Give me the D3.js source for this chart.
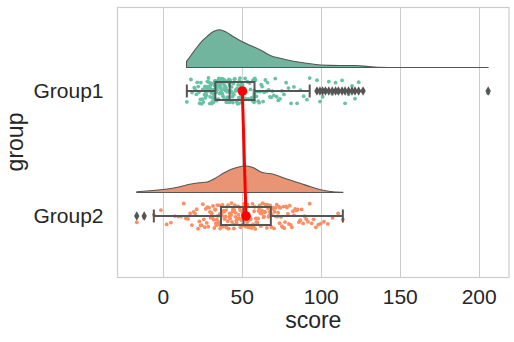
<!DOCTYPE html>
<html>
<head>
<meta charset="utf-8">
<script src="https://cdn.jsdelivr.net/npm/d3@7"></script>
<style>
  html, body { margin: 0; padding: 0; background: #ffffff; }
  svg { display: block; }
  text { font-family: "Liberation Sans", Arial, sans-serif; fill: #262626; }
</style>
</head>
<body>
<svg id="chart" width="514" height="342"></svg>
<script>
// ---------------- data ----------------
const categories = ["Group1", "Group2"];
const xTicks = [0, 50, 100, 150, 200];
const xLabel = "score";
const yLabel = "group";

const group1Scores = [
  15.2, 17.8, 18.5, 19.9, 20.6, 21.3, 21.8, 22.4, 22.9, 23.3,
  23.8, 24.1, 24.6, 25.0, 25.3, 25.7, 26.0, 26.4, 26.7, 27.0,
  27.3, 27.6, 27.9, 28.2, 28.4, 28.7, 28.9, 29.2, 29.4, 29.7,
  29.9, 30.1, 30.3, 30.5, 30.8, 31.0, 31.2, 31.4, 31.6, 31.8,
  32.0, 32.1, 32.3, 32.4, 32.6, 32.7, 32.8, 32.9, 33.0, 33.1,
  33.3, 33.5, 33.7, 33.9, 34.1, 34.3, 34.5, 34.6, 34.8, 35.0,
  35.2, 35.3, 35.5, 35.7, 35.8, 36.0, 36.2, 36.3, 36.5, 36.7,
  36.9, 37.0, 37.2, 37.4, 37.6, 37.8, 38.0, 38.1, 38.3, 38.5,
  38.7, 38.9, 39.1, 39.3, 39.5, 39.7, 39.9, 40.1, 40.2, 40.4,
  40.6, 40.8, 41.0, 41.2, 41.3, 41.5, 41.7, 41.8, 42.0, 42.2,
  42.4, 42.6, 42.9, 43.1, 43.4, 43.6, 43.9, 44.1, 44.4, 44.7,
  45.0, 45.3, 45.6, 45.9, 46.2, 46.5, 46.8, 47.1, 47.4, 47.7,
  48.0, 48.3, 48.6, 48.9, 49.2, 49.5, 49.8, 50.1, 50.5, 50.9,
  51.3, 51.7, 52.1, 52.5, 53.0, 53.5, 54.0, 54.5, 55.0, 55.5,
  56.0, 56.4, 56.8, 57.1, 57.4, 57.6, 57.7, 57.8, 57.9, 58.0,
  58.2, 58.7, 59.3, 59.9, 60.4, 61.0, 61.6, 62.3, 62.9, 63.5,
  64.2, 64.9, 65.6, 66.3, 67.0, 67.8, 68.6, 69.4, 70.3, 71.2,
  72.1, 73.1, 74.2, 75.4, 76.7, 78.1, 79.6, 81.2, 83.0, 85.0,
  87.1, 89.2, 91.3, 93.0,
  97.6, 99.5, 101.2, 103.0, 105.1, 107.3, 109.4, 111.2, 113.5, 115.4,
  117.6, 119.8, 121.7, 124.0, 126.8, 206.0
];

const group2Scores = [
  -16.5, -11.8, -5.7, -1.2, 2.4, 5.1, 7.6, 9.8, 11.5, 13.2,
  14.6, 16.0, 17.3, 18.4, 19.5, 20.5, 21.4, 22.3, 23.1, 23.9,
  24.6, 25.3, 26.0, 26.6, 27.2, 27.8, 28.3, 28.8, 29.3, 29.8,
  30.2, 30.6, 31.0, 31.4, 31.8, 32.2, 32.6, 33.0, 33.3, 33.6,
  33.9, 34.2, 34.5, 34.8, 35.1, 35.4, 35.7, 36.0, 36.3, 36.6,
  36.9, 37.2, 37.5, 37.8, 38.1, 38.4, 38.7, 39.0, 39.3, 39.6,
  39.9, 40.2, 40.5, 40.8, 41.1, 41.4, 41.7, 42.0, 42.3, 42.6,
  42.9, 43.2, 43.5, 43.8, 44.1, 44.4, 44.7, 45.0, 45.3, 45.6,
  45.9, 46.2, 46.5, 46.8, 47.1, 47.4, 47.7, 48.0, 48.3, 48.6,
  48.9, 49.2, 49.5, 49.8, 50.1, 50.3, 50.5, 50.7, 50.9, 51.0,
  51.2, 51.5, 51.9, 52.2, 52.6, 52.9, 53.3, 53.6, 54.0, 54.3,
  54.7, 55.0, 55.4, 55.7, 56.1, 56.4, 56.8, 57.1, 57.5, 57.8,
  58.2, 58.5, 58.9, 59.2, 59.6, 59.9, 60.3, 60.6, 61.0, 61.3,
  61.7, 62.0, 62.4, 62.7, 63.1, 63.4, 63.8, 64.1, 64.5, 64.8,
  65.2, 65.5, 65.9, 66.2, 66.6, 66.9, 67.3, 67.6, 68.0, 68.3,
  68.7, 69.1, 69.5, 69.9, 70.4, 70.8, 71.2, 71.7, 72.1, 72.6,
  73.0, 73.5, 73.9, 74.4, 74.9, 75.4, 75.9, 76.4, 76.9, 77.4,
  78.0, 78.6, 79.2, 79.8, 80.4, 81.0, 81.7, 82.4, 83.1, 83.8,
  84.6, 85.4, 86.2, 87.0, 87.9, 88.8, 89.8, 90.8, 91.9, 93.0,
  94.2, 95.5, 96.9, 98.4, 100.0, 102.0, 104.5, 107.5, 111.0, 114.0
];

// half-violin ("cloud") density estimates
const cloudGrid1 = [15, 18, 21, 24, 28, 32, 36, 40, 45, 50, 57, 63, 68, 75, 82, 90, 100, 112, 122, 130, 136, 150, 206];
const cloudDensity1 = [0.0024, 0.0050, 0.0076, 0.0100, 0.0124, 0.0144, 0.0151, 0.0142, 0.0122, 0.0104, 0.0084, 0.0066,
                       0.0048, 0.0036, 0.0026, 0.0018, 0.0010, 0.0008, 0.0008, 0.0004, 0.0001, 0, 0];
const cloudGrid2 = [-16.5, -10, -3, 4, 10, 17, 23, 28, 33, 38, 43, 48, 52, 57, 63, 70, 78, 87, 94, 100, 106, 114];
const cloudDensity2 = [0.0003, 0.0006, 0.0010, 0.0015, 0.0022, 0.0033, 0.0039, 0.0042, 0.0056, 0.0076, 0.0092, 0.0102,
                       0.0107, 0.0100, 0.0080, 0.0073, 0.0055, 0.0037, 0.0022, 0.0011, 0.0004, 0.0001];

const stripColors = ["#66c2a5", "#fc8d62"];
const cloudColors = ["#72b59f", "#e99575"];

// ---------------- layout ----------------
const svg = d3.select("#chart");
const plot = { left: 117.5, right: 509, top: 7, bottom: 277 };

const x = d3.scaleLinear().domain([-28.7, 219.2]).range([plot.left, plot.right]);
const yPos = d3.scaleLinear().domain([-0.672, 1.488]).range([plot.top, plot.bottom]);
const y = d3.scalePoint().domain(categories).range([yPos(0), yPos(1)]).padding(0);
const dens = d3.scaleLinear().domain([0, 0.0151]).range([0, 37.7]);

const cloudOffset = 23.5;   // px above category centre
const boxHalf = 9;
const capHalf = 6.5;
const jitterHalf = 13;

// grid
svg.append("g").selectAll("line").data(xTicks).join("line")
  .attr("x1", d => Math.round(x(d)) + 0.5).attr("x2", d => Math.round(x(d)) + 0.5)
  .attr("y1", plot.top).attr("y2", plot.bottom)
  .attr("stroke", "#cccccc").attr("stroke-width", 1);

// frame
svg.append("rect")
  .attr("x", plot.left).attr("y", plot.top + 0.5)
  .attr("width", plot.right - plot.left).attr("height", plot.bottom - plot.top)
  .attr("fill", "none").attr("stroke", "#cccccc").attr("stroke-width", 1.2);

const groups = [
  { name: categories[0], scores: group1Scores, grid: cloudGrid1, density: cloudDensity1 },
  { name: categories[1], scores: group2Scores, grid: cloudGrid2, density: cloudDensity2 }
];

function hashJitter(i, k) {
  const s = Math.sin((i + 1) * 12.9898 + k * 78.233) * 43758.5453;
  return (s - Math.floor(s)) * 2 - 1;
}

const means = [];
groups.forEach((g, k) => {
  const cy = y(g.name);
  const base = cy - cloudOffset;
  // cloud
  const area = d3.area()
    .x(d => x(d[0]))
    .y0(base)
    .y1(d => base - dens(d[1]))
    .curve(d3.curveMonotoneX);
  svg.append("path")
    .datum(g.grid.map((v, i) => [v, g.density[i]]))
    .attr("d", area)
    .attr("fill", cloudColors[k])
    .attr("stroke", "#555555").attr("stroke-width", 1.1).attr("stroke-linejoin", "round");

  // rain (strip)
  svg.append("g").selectAll("circle").data(g.scores).join("circle")
    .attr("cx", d => x(d))
    .attr("cy", (d, i) => cy + hashJitter(i, k) * jitterHalf)
    .attr("r", 1.9)
    .attr("fill", stripColors[k]);

  // box
  const s = g.scores.slice().sort(d3.ascending);
  const q1 = d3.quantile(s, 0.25), med = d3.quantile(s, 0.5), q3 = d3.quantile(s, 0.75);
  const iqr = q3 - q1;
  const lo = d3.min(s.filter(v => v >= q1 - 1.5 * iqr));
  const hi = d3.max(s.filter(v => v <= q3 + 1.5 * iqr));
  const outliers = s.filter(v => v < lo || v > hi);
  const bg = svg.append("g").attr("stroke", "#555555").attr("stroke-width", 2).attr("fill", "none");
  bg.append("line").attr("x1", x(lo)).attr("x2", x(q1)).attr("y1", cy).attr("y2", cy);
  bg.append("line").attr("x1", x(q3)).attr("x2", x(hi)).attr("y1", cy).attr("y2", cy);
  bg.append("line").attr("x1", x(lo)).attr("x2", x(lo)).attr("y1", cy - capHalf).attr("y2", cy + capHalf);
  bg.append("line").attr("x1", x(hi)).attr("x2", x(hi)).attr("y1", cy - capHalf).attr("y2", cy + capHalf);
  bg.append("rect").attr("x", x(q1)).attr("y", cy - boxHalf)
    .attr("width", x(q3) - x(q1)).attr("height", 2 * boxHalf);
  bg.append("line").attr("x1", x(med)).attr("x2", x(med)).attr("y1", cy - boxHalf).attr("y2", cy + boxHalf);
  svg.append("g").selectAll("path").data(outliers).join("path")
    .attr("d", "M0,-4.8L2.7,0L0,4.8L-2.7,0Z")
    .attr("transform", d => `translate(${x(d)},${cy})`)
    .attr("fill", "#555555");

  means.push({ name: g.name, mean: d3.mean(g.scores) });
});

// mean point line
svg.append("path")
  .datum(means)
  .attr("d", d3.line().x(d => x(d.mean)).y(d => y(d.name)))
  .attr("fill", "none").attr("stroke", "#ff0000").attr("stroke-width", 3);
svg.append("g").selectAll("circle").data(means).join("circle")
  .attr("cx", d => x(d.mean)).attr("cy", d => y(d.name)).attr("r", 4.8)
  .attr("fill", "#ff0000");

// axes
const xAxis = svg.append("g")
  .attr("transform", `translate(0,${plot.bottom})`)
  .call(d3.axisBottom(x).tickValues(xTicks).tickSize(0).tickPadding(12).tickFormat(d3.format("d")));
xAxis.select(".domain").remove();
xAxis.selectAll("text").style("font-size", "21px").style("font-family", "'Liberation Sans', Arial, sans-serif").attr("fill", "#262626");

const yAxis = svg.append("g")
  .attr("transform", `translate(${plot.left},0)`)
  .call(d3.axisLeft(y).tickSize(0).tickPadding(14));
yAxis.select(".domain").remove();
yAxis.selectAll("text").style("font-size", "21px").style("font-family", "'Liberation Sans', Arial, sans-serif").attr("fill", "#262626");

svg.append("text")
  .attr("x", (plot.left + plot.right) / 2).attr("y", 328)
  .attr("text-anchor", "middle").style("font-size", "23px")
  .text(xLabel);

svg.append("text")
  .attr("transform", `translate(23,${(plot.top + plot.bottom) / 2}) rotate(-90)`)
  .attr("text-anchor", "middle").style("font-size", "23px")
  .text(yLabel);
</script>
</body>
</html>
